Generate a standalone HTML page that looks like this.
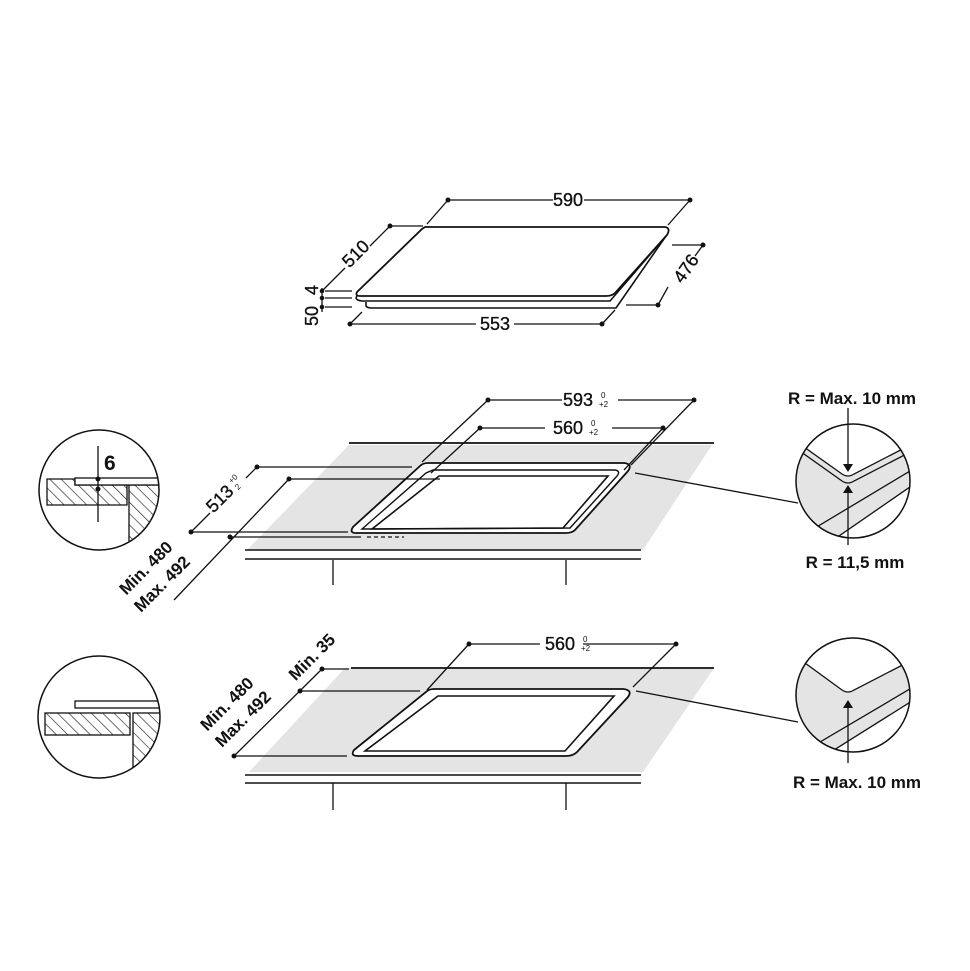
<!DOCTYPE html>
<html><head><meta charset="utf-8"><style>
html,body{margin:0;padding:0;background:#fff;}
svg{display:block;}
text{font-family:"Liberation Sans",Arial,sans-serif;fill:#111;}
.d{font-size:18px;stroke:#111;stroke-width:0.35;}
</style></head><body>
<svg width="970" height="971" viewBox="0 0 970 971" xmlns="http://www.w3.org/2000/svg">
<defs>
<pattern id="hatch" patternUnits="userSpaceOnUse" width="8" height="8" patternTransform="rotate(-45)">
<rect width="8" height="8" fill="#fff"/><line x1="0" y1="0" x2="0" y2="8" stroke="#222" stroke-width="1.3"/>
</pattern>
<clipPath id="c1"><circle cx="99" cy="490" r="60"/></clipPath>
<clipPath id="c2"><circle cx="99" cy="717" r="61"/></clipPath>
<clipPath id="c3"><circle cx="853" cy="481" r="57"/></clipPath>
<clipPath id="c4"><circle cx="853" cy="695" r="57"/></clipPath>
</defs>
<g stroke="#111" fill="none" stroke-width="1.3">
<!-- TOP HOB -->
<path d="M425,227 L665,227 Q671,228 667,235 L615,293 Q612,296 606,296 L360,296 Q355,296 357,292 L422,229 Z" stroke-width="1.8"/>
<path d="M357,296 Q354,300 362,301 L610,301 L660,243" stroke-width="1.6"/>
<path d="M366,302 L366,306 Q367,308 372,308 L616,308 L666,236" stroke-width="1.6"/>
<path d="M448,200 L553,200 M584,200 L690,200"/>
<path d="M448,200 L427,224 M690,200 L668,225"/>
<path d="M390,226 L423,226 M390,226 L370,246 M345,268 L322,291"/>
<path d="M325,291 L352,291 M325,298 L352,298 M325,307 L352,307 M322,288 L322,312"/>
<path d="M350,324 L476,324 M514,324 L602,324 M350,324 L362,312 M602,324 L615,310"/>
<path d="M672,245 L703,245 M703,245 L695,256 M668,287 L658,305 M626,305 L658,305"/>
</g>
<g fill="#111">
<circle cx="448" cy="200" r="2.5"/><circle cx="690" cy="200" r="2.5"/><circle cx="390" cy="226" r="2.5"/>
<circle cx="322" cy="291" r="2.3"/><circle cx="322" cy="298" r="2.3"/><circle cx="322" cy="307" r="2.3"/>
<circle cx="350" cy="324" r="2.5"/><circle cx="602" cy="324" r="2.5"/><circle cx="703" cy="245" r="2.5"/><circle cx="658" cy="305" r="2.5"/>
</g>
<g>
<text class="d" x="568" y="206" text-anchor="middle">590</text>
<text class="d" x="495" y="330" text-anchor="middle">553</text>
<text class="d" transform="translate(360,258) rotate(-45)" text-anchor="middle">510</text>
<text class="d" transform="translate(691,272) rotate(-55)" text-anchor="middle">476</text>
<text class="d" transform="translate(318,290) rotate(-90)" text-anchor="middle">4</text>
<text class="d" transform="translate(318,316) rotate(-90)" text-anchor="middle">50</text>
</g>

<!-- MIDDLE -->
<polygon points="349,445 712,445 643,550 247,550" fill="#e4e4e4"/>
<g stroke="#111" fill="none" stroke-width="1.3">
<path d="M349,443 L714,443" stroke-width="1.8"/>
<path d="M245,550 L641,550 M245,559 L641,559" stroke-width="1.6"/>
<path d="M333,560 L333,585 M566,560 L566,585"/>
<path d="M428,463 L624,463 Q633,464 628,471 L575,530 Q572,533 566,533 L356,533 Q349,533 353,527 L420,466 Q423,463 428,463 Z" fill="#fff" stroke-width="1.8"/>
<path d="M433,470 L615,470 Q621,471 617,476 L570,528 L362,529 L426,473 Z" stroke-width="1.4"/>
<path d="M439,476 L608,476 L563,528 L372,529 Z" stroke-width="1.6"/>
<path d="M488,400 L562,400 M618,400 L694,400 M488,400 L422,462 M694,400 L631,465"/>
<path d="M480,428 L545,428 M612,428 L663,428 M480,428 L431,473 M663,428 L624,470"/>
<path d="M367,537 L404,537" stroke-dasharray="4,3"/>
<path d="M257,467 L412,467 M191,532 L348,532 M257,467 L246,478 M210,513 L191,532"/>
<path d="M289,479 L440,479 M230,537 L361,537 M289,479 L174,600"/>
<path d="M635,473 L798,503"/>
</g>
<g fill="#111">
<circle cx="488" cy="400" r="2.5"/><circle cx="694" cy="400" r="2.5"/><circle cx="480" cy="428" r="2.5"/><circle cx="663" cy="428" r="2.5"/>
<circle cx="257" cy="467" r="2.5"/><circle cx="191" cy="532" r="2.5"/><circle cx="289" cy="479" r="2.5"/><circle cx="230" cy="537" r="2.5"/>
</g>
<g>
<text class="d" x="578" y="406" text-anchor="middle">593</text>
<text x="601" y="398" font-size="8">0</text><text x="599" y="407" font-size="8">+2</text>
<text class="d" x="568" y="434" text-anchor="middle">560</text>
<text x="591" y="426" font-size="8">0</text><text x="589" y="435" font-size="8">+2</text>
<g transform="translate(224,503) rotate(-45)"><text class="d" text-anchor="middle">513</text><text x="19" y="-8" font-size="8">+0</text><text x="19" y="1" font-size="8">2</text></g>
<text transform="translate(150,572) rotate(-45)" text-anchor="middle" font-weight="bold" font-size="17">Min. 480</text>
<text transform="translate(166,588) rotate(-45)" text-anchor="middle" font-weight="bold" font-size="17">Max. 492</text>
</g>

<!-- middle left circle -->
<g clip-path="url(#c1)" stroke="#111" stroke-width="1.3">
<path d="M47,479 L75,479 L75,485 L127,485 L127,505 L47,505 Z" fill="url(#hatch)"/>
<rect x="129" y="485" width="40" height="70" fill="url(#hatch)"/>
<rect x="75" y="478" width="90" height="7" fill="#fff"/>
<line x1="98" y1="446" x2="98" y2="522"/>
</g>
<circle cx="99" cy="490" r="60" fill="none" stroke="#111" stroke-width="1.5"/>
<circle cx="98" cy="479" r="2.5" fill="#111"/><circle cx="98" cy="489" r="2.5" fill="#111"/>
<text x="104" y="470" font-size="21" font-weight="bold">6</text>

<!-- BOTTOM -->
<polygon points="345,668 714,668 643,772 249,772" fill="#e4e4e4"/>
<g stroke="#111" fill="none" stroke-width="1.3">
<path d="M351,668 L714,668" stroke-width="1.8"/>
<path d="M245,775 L641,775 M245,783 L641,783" stroke-width="1.6"/>
<path d="M333,783 L333,810 M566,783 L566,810"/>
<path d="M434,689 L623,689 Q633,690 628,697 L577,752 Q573,756 566,756 L358,756 Q350,756 354,750 L426,692 Q429,689 434,689 Z" fill="#fff" stroke-width="1.8"/>
<path d="M438,696 L614,696 L565,751 L365,751 Z" stroke-width="1.6"/>
<path d="M469,644 L540,644 M583,644 L676,644 M469,644 L427,690 M676,644 L633,687"/>
<path d="M322,669 L349,669 M300,691 L420,691 M234,756 L347,756 M322,669 L234,756"/>
<path d="M636,691 L798,722"/>
</g>
<g fill="#111">
<circle cx="469" cy="644" r="2.5"/><circle cx="676" cy="644" r="2.5"/><circle cx="322" cy="669" r="2.5"/><circle cx="300" cy="691" r="2.5"/><circle cx="234" cy="756" r="2.5"/>
</g>
<g>
<text class="d" x="560" y="650" text-anchor="middle">560</text>
<text x="583" y="642" font-size="8">0</text><text x="581" y="651" font-size="8">+2</text>
<text transform="translate(316,661) rotate(-45)" text-anchor="middle" font-weight="bold" font-size="17">Min. 35</text>
<text transform="translate(231,708) rotate(-45)" text-anchor="middle" font-weight="bold" font-size="17">Min. 480</text>
<text transform="translate(247,723) rotate(-45)" text-anchor="middle" font-weight="bold" font-size="17">Max. 492</text>
</g>
<!-- bottom left circle -->
<g clip-path="url(#c2)" stroke="#111" stroke-width="1.3">
<rect x="45" y="713" width="85" height="22" fill="url(#hatch)"/>
<rect x="133" y="713" width="40" height="80" fill="url(#hatch)"/>
<rect x="75" y="701" width="95" height="7" fill="#fff"/>
</g>
<circle cx="99" cy="717" r="61" fill="none" stroke="#111" stroke-width="1.5"/>

<!-- right circle middle -->
<g clip-path="url(#c3)" stroke="#111" stroke-width="1.3">
<rect x="790" y="420" width="130" height="125" fill="#e4e4e4" stroke="none"/>
<path d="M790,437 L842,474 Q848,478 854,474 L920,440 L920,410 L790,410 Z" fill="#fff"/>
<path d="M790,444 L842,481 Q848,485 854,481 L920,447" fill="none"/>
<path d="M815,540 L815,528 L920,465" fill="none"/>
<path d="M826,545 L920,480 L920,545 Z" fill="#fff"/>
</g>
<circle cx="853" cy="481" r="57" fill="none" stroke="#111" stroke-width="1.5"/>
<g stroke="#111" stroke-width="1.3"><line x1="848" y1="408" x2="848" y2="466"/><line x1="848" y1="492" x2="848" y2="545"/></g>
<polygon points="843,464 853,464 848,472" fill="#111"/><polygon points="843,493 853,493 848,485" fill="#111"/>
<text x="852" y="404" font-size="17" font-weight="bold" text-anchor="middle">R = Max. 10 mm</text>
<text x="855" y="568" font-size="17" font-weight="bold" text-anchor="middle">R = 11,5 mm</text>

<!-- right circle bottom -->
<g clip-path="url(#c4)" stroke="#111" stroke-width="1.3">
<rect x="790" y="630" width="130" height="130" fill="#e4e4e4" stroke="none"/>
<path d="M790,652 L842,690 Q848,694 854,690 L920,656 L920,620 L790,620 Z" fill="#fff"/>
<path d="M815,752 L815,745 L920,683" fill="none"/>
<path d="M826,755 L920,696 L920,760 Z" fill="#fff"/>
</g>
<circle cx="853" cy="695" r="57" fill="none" stroke="#111" stroke-width="1.5"/>
<line x1="848" y1="707" x2="848" y2="763" stroke="#111" stroke-width="1.3"/>
<polygon points="843,708 853,708 848,700" fill="#111"/>
<text x="857" y="788" font-size="17" font-weight="bold" text-anchor="middle">R = Max. 10 mm</text>
</svg>
</body></html>
